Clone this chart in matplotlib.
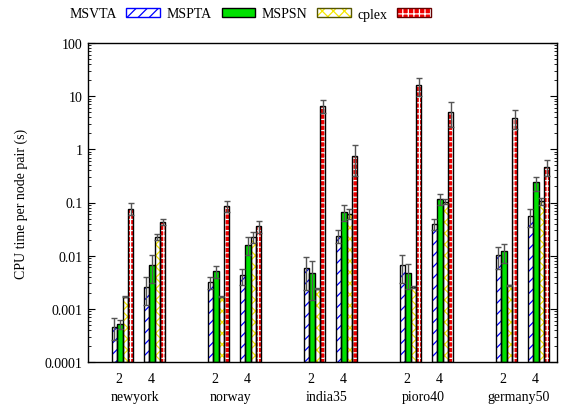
import numpy as np
import matplotlib
matplotlib.use("Agg")
import matplotlib.pyplot as plt
from matplotlib.patches import Patch
from matplotlib.legend_handler import HandlerTuple
from matplotlib.ticker import LogLocator, NullFormatter

plt.rcParams['font.family'] = ['Liberation Serif', 'DejaVu Serif']
plt.rcParams['hatch.linewidth'] = 0.9

networks = ["newyork", "norway", "india35", "pioro40", "germany50"]
nvals = ["2", "4"]
series = ["MSVTA", "MSPTA", "MSPSN", "cplex"]

# values ordered: newyork2, newyork4, norway2, norway4, india2, india4, pioro2, pioro4, germany2, germany4
msvta = [4.6e-4, 2.6e-3, 3.2e-3, 4.25e-3, 5.85e-3, 0.0235, 6.6e-3, 0.040, 0.0101, 0.056]
msvta_err = [2.0e-4, 1.4e-3, 0.8e-3, 1.4e-3, 3.6e-3, 6.5e-3, 3.5e-3, 0.010, 4.5e-3, 0.021]
mspta = [5.2e-4, 6.6e-3, 5.06e-3, 0.0161, 4.78e-3, 0.0667, 4.7e-3, 0.116, 0.0121, 0.238]
mspta_err = [1.1e-4, 3.5e-3, 1.3e-3, 6.0e-3, 3.3e-3, 0.022, 2.3e-3, 0.027, 4.7e-3, 0.070]
mspsn = [1.7e-3, 0.0225, 1.7e-3, 0.0225, 2.38e-3, 0.062, 2.57e-3, 0.103, 2.75e-3, 0.105]
mspsn_err = [5e-5, 3e-3, 5e-5, 5e-3, 5e-5, 0.013, 1e-4, 0.011, 1e-4, 0.015]
cplex = [0.077, 0.043, 0.0865, 0.036, 6.67, 0.76, 15.9, 5.14, 3.96, 0.47]
cplex_err = [0.019, 6e-3, 0.021, 9e-3, 1.8, 0.44, 6.0, 2.5, 1.5, 0.16]

values = [msvta, mspta, mspsn, cplex]
errors = [msvta_err, mspta_err, mspsn_err, cplex_err]

fig = plt.figure(figsize=(5.61, 4.06), dpi=100)
ax = fig.add_axes([88/561, 1-363/406, (557-88)/561, (363-44)/406])

pos = []
for i in range(len(networks)):
    pos += [3*i, 3*i + 1]
pos = np.array(pos, dtype=float)

w = 0.17
shift = 0.11
offsets = np.array([-1.5, -0.5, 0.5, 1.5]) * w + shift

styles = [
    dict(face='white', hatch='///', hcolor='#0000ff', edge='black', ledge='#0000ff'),
    dict(face='#00e000', hatch=None, hcolor=None, edge='black', ledge='black'),
    dict(face='white', hatch='xxx', hcolor='#f5e800', edge='black', ledge='#555500'),
    dict(face='#ee0000', hatch='+++', hcolor='white', edge='black', ledge='#660000'),
]

bottom = 1e-4
for k in range(4):
    x = pos + offsets[k]
    v = np.array(values[k])
    st = styles[k]
    if st['hatch']:
        ax.bar(x, v - bottom, bottom=bottom, width=w, color=st['face'],
               hatch=st['hatch'], edgecolor=st['hcolor'], linewidth=0, zorder=2)
    else:
        ax.bar(x, v - bottom, bottom=bottom, width=w, color=st['face'],
               linewidth=0, zorder=2)
    ax.bar(x, v - bottom, bottom=bottom, width=w, fill=False,
           edgecolor=st['edge'], linewidth=1.0, zorder=3)
    ax.errorbar(x, v, yerr=np.array(errors[k]), fmt='none', ecolor='#555555',
                elinewidth=1.0, capsize=2.5, capthick=1.0, zorder=4)

ax.set_yscale('log')
ax.set_ylim(1e-4, 100)
ax.set_xlim((88-119)/32, (557-119)/32)

ax.yaxis.set_minor_locator(LogLocator(base=10, subs=np.arange(2, 10), numticks=20))
ax.yaxis.set_minor_formatter(NullFormatter())
ax.set_yticks([1e-4, 1e-3, 1e-2, 1e-1, 1, 10, 100])
ax.set_yticklabels(["0.0001", "0.001", "0.01", "0.1", "1", "10", "100"])
ax.tick_params(axis='y', which='major', direction='in', length=5, width=0.8,
               right=True, labelsize=10, pad=4)
ax.tick_params(axis='y', which='minor', direction='in', length=2.5, width=0.6,
               right=True)

ax.set_xticks(pos)
ax.set_xticklabels(nvals * len(networks))
ax.tick_params(axis='x', which='both', length=0, labelsize=10, pad=7)

for i, name in enumerate(networks):
    ax.text(3*i + 0.5, -0.108, name, transform=ax.get_xaxis_transform(),
            ha='center', va='center', fontsize=10)

for s in ax.spines.values():
    s.set_linewidth(1.0)

ax.set_ylabel("CPU time per node pair (s)", fontsize=10, labelpad=12)

handles = []
for k in range(4):
    st = styles[k]
    if st['hatch']:
        fillp = Patch(facecolor=st['face'], hatch=st['hatch'],
                      edgecolor=st['hcolor'], linewidth=0)
    else:
        fillp = Patch(facecolor=st['face'], linewidth=0)
    edgep = Patch(fill=False, edgecolor=st['ledge'], linewidth=1.0)
    handles.append((fillp, edgep))

leg = fig.legend(handles, series, loc='center', bbox_to_anchor=(250/561, 1-15/406),
                 ncol=4, frameon=False, markerfirst=False, fontsize=10,
                 handlelength=2.4, handleheight=0.6, columnspacing=0.5,
                 handletextpad=0.7,
                 handler_map={tuple: HandlerTuple(ndivide=1, pad=0)})

fig.savefig("out.png", dpi=100)
